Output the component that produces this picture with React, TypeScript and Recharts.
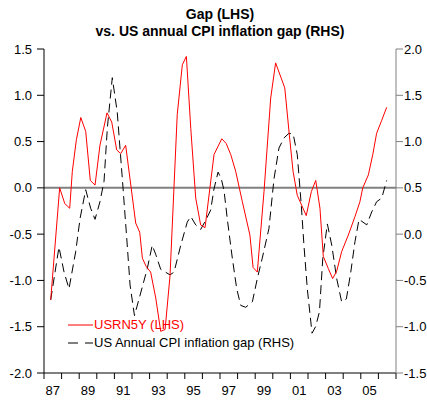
import { Line, LineChart, ReferenceLine, XAxis, YAxis } from "recharts";

// USRN5Y gap (LHS) as [decimal year, value]
const GAP_T = [
  1987.38, 1987.89, 1988.18, 1988.46, 1988.61, 1988.84, 1989.09, 1989.37, 1989.63, 1989.9,
  1990.18, 1990.58, 1990.85, 1991.13, 1991.36, 1991.64, 1992.21, 1992.44, 1992.59, 1992.81,
  1993.06, 1993.35, 1993.63, 1993.88, 1994.16, 1994.57, 1994.86, 1995.09, 1995.34, 1995.62,
  1995.9, 1996.15, 1996.66, 1997.1, 1997.35, 1997.61, 1997.89, 1998.27, 1998.7, 1998.88,
  1999.12, 1999.5, 1999.88, 2000.16, 2000.68, 2000.94, 2001.15, 2001.39, 2001.9, 2002.19,
  2002.44, 2002.68, 2002.87, 2003.15, 2003.4, 2003.63, 2003.91, 2004.29, 2004.67, 2004.95,
  2005.11, 2005.43, 2005.68, 2005.9, 2006.19, 2006.47,
];
const GAP_V = [
  -1.21, 0.0, -0.17, -0.22, 0.18, 0.52, 0.76, 0.61, 0.08, 0.03,
  0.46, 0.81, 0.71, 0.41, 0.37, 0.46, -0.38, -0.48, -0.76, -0.85,
  -0.91, -1.19, -1.55, -1.53, -0.95, 0.79, 1.33, 1.42, 0.64, -0.11,
  -0.4, -0.43, 0.36, 0.53, 0.48, 0.36, 0.18, -0.15, -0.51, -0.86,
  -0.91, -0.04, 0.97, 1.35, 1.08, 0.57, 0.18, -0.08, -0.3, -0.04,
  0.08, -0.22, -0.74, -0.87, -0.98, -0.9, -0.69, -0.51, -0.31, -0.15,
  0.0, 0.14, 0.36, 0.59, 0.73, 0.87,
];

// US annual CPI inflation gap (RHS)
const CPI_T = [
  1987.38, 1987.85, 1988.14, 1988.42, 1988.8, 1989.05, 1989.37, 1989.65, 1989.9, 1990.18,
  1990.41, 1990.6, 1990.88, 1991.16, 1991.45, 1991.7, 1991.89, 1992.14, 1992.43, 1992.87,
  1993.15, 1993.35, 1993.63, 1994.16, 1994.39, 1994.77, 1995.14, 1995.34, 1995.62, 1995.9,
  1996.19, 1996.47, 1996.66, 1996.89, 1997.07, 1997.23, 1997.41, 1997.7, 1997.95, 1998.18,
  1998.46, 1998.84, 1999.12, 1999.4, 1999.78, 2000.07, 2000.35, 2000.64, 2000.92, 2001.16,
  2001.39, 2001.62, 2001.77, 2001.96, 2002.23, 2002.43, 2002.65, 2002.84, 2003.1, 2003.35,
  2003.63, 2003.91, 2004.18, 2004.43, 2004.67, 2004.9, 2005.34, 2005.62, 2005.9, 2006.19,
  2006.47,
];
const CPI_V = [
  -0.71, -0.14, -0.41, -0.59, -0.19, 0.17, 0.48, 0.28, 0.16, 0.35,
  0.57, 1.15, 1.69, 1.32, 0.6, -0.04, -0.55, -0.88, -0.68, -0.37,
  -0.12, -0.22, -0.38, -0.44, -0.41, -0.12, 0.13, 0.19, 0.1, 0.05,
  0.15, 0.26, 0.49, 0.67, 0.6, 0.47, 0.17, -0.26, -0.59, -0.77,
  -0.79, -0.73, -0.48, -0.26, 0.06, 0.6, 0.93, 1.04, 1.09, 1.08,
  0.86, 0.31, -0.12, -0.59, -1.07, -1.0, -0.84, -0.26, 0.11, -0.12,
  -0.48, -0.73, -0.7, -0.41, -0.08, 0.16, 0.1, 0.24, 0.35, 0.39,
  0.58,
];

const YEAR_TICKS = [
  1987, 1988, 1989, 1990, 1991, 1992, 1993, 1994, 1995, 1996, 1997,
  1998, 1999, 2000, 2001, 2002, 2003, 2004, 2005, 2006, 2007,
];
const LEFT_TICKS = [-2, -1.5, -1, -0.5, 0, 0.5, 1, 1.5];
const RIGHT_TICKS = [-1.5, -1, -0.5, 0, 0.5, 1, 1.5, 2];

const gapData = GAP_T.map((t, i) => ({ t, v: GAP_V[i] }));
const cpiData = CPI_T.map((t, i) => ({ t, v: CPI_V[i] }));

const W = 427;
const H = 400;
const LEFT_W = 44;
const RIGHT_W = 31;
// year labels sit in the middle of each year's slot
const HALF_YEAR = (W - LEFT_W - RIGHT_W) / (YEAR_TICKS.length - 1) / 2;

const FONT = "Arial, 'Liberation Sans', sans-serif";
const TICK = { fontSize: 13, fill: "#000", fontFamily: FONT };

function YearTick(props: any) {
  const { x, y, payload } = props;
  const yr = payload.value as number;
  if (yr % 2 === 0 || yr >= 2007) return <g />;
  return (
    <text x={x + HALF_YEAR} y={y} dy="0.71em" textAnchor="middle" {...TICK}>
      {String(yr % 100).padStart(2, "0")}
    </text>
  );
}

function LegendBox() {
  return (
    <div
      style={{
        position: "absolute",
        left: 68,
        top: 316,
        fontFamily: FONT,
        fontSize: 13,
        lineHeight: "18px",
        whiteSpace: "nowrap",
      }}
    >
      <div style={{ display: "flex", alignItems: "center", color: "#ff0000" }}>
        <svg width={26} height={18}>
          <line x1={0} y1={9} x2={25} y2={9} stroke="#ff0000" strokeWidth={1} />
        </svg>
        <span>USRN5Y (LHS)</span>
      </div>
      <div style={{ display: "flex", alignItems: "center", color: "#000" }}>
        <svg width={26} height={18}>
          <line x1={0} y1={9} x2={25} y2={9} stroke="#000" strokeWidth={1} strokeDasharray="10 7" />
        </svg>
        <span>US Annual CPI inflation gap (RHS)</span>
      </div>
    </div>
  );
}

export default function App() {
  return (
    <div style={{ position: "absolute", left: 0, top: 0, width: W, height: H, background: "#fff", overflow: "hidden" }}>
      <div
        style={{
          position: "absolute",
          left: 0,
          top: 6,
          width: 440,
          textAlign: "center",
          fontFamily: FONT,
          fontWeight: "bold",
          fontSize: 14,
          lineHeight: "17px",
          color: "#000",
        }}
      >
        Gap (LHS)
        <br />
        vs. US annual CPI inflation gap (RHS)
      </div>
      <LineChart width={W} height={H} margin={{ top: 49, right: 0, bottom: 0, left: 0 }}>
        <XAxis
          xAxisId="t"
          type="number"
          dataKey="t"
          domain={[1987, 2007]}
          ticks={YEAR_TICKS}
          interval={0}
          allowDataOverflow
          tick={<YearTick />}
          tickSize={6}
          tickMargin={7}
          height={27}
          stroke="#000"
        />
        <YAxis
          yAxisId="l"
          domain={[-2, 1.5]}
          ticks={LEFT_TICKS}
          interval={0}
          allowDataOverflow
          width={LEFT_W}
          tickSize={7}
          tickMargin={5}
          stroke="#000"
          tick={TICK}
          tickFormatter={(v: number) => v.toFixed(1)}
        />
        <YAxis
          yAxisId="r"
          orientation="right"
          domain={[-1.5, 2]}
          ticks={RIGHT_TICKS}
          interval={0}
          allowDataOverflow
          width={RIGHT_W}
          tickSize={7}
          tickMargin={1}
          stroke="#808080"
          tick={TICK}
          tickFormatter={(v: number) => v.toFixed(1)}
        />
        <ReferenceLine xAxisId="t" yAxisId="l" y={0} stroke="#808080" strokeWidth={2} />
        <Line
          xAxisId="t"
          yAxisId="r"
          data={cpiData}
          dataKey="v"
          type="linear"
          stroke="#000"
          strokeWidth={1}
          strokeDasharray="9 5"
          dot={false}
          isAnimationActive={false}
        />
        <Line
          xAxisId="t"
          yAxisId="l"
          data={gapData}
          dataKey="v"
          type="linear"
          stroke="#ff0000"
          strokeWidth={1}
          dot={false}
          isAnimationActive={false}
        />
      </LineChart>
      <LegendBox />
    </div>
  );
}
